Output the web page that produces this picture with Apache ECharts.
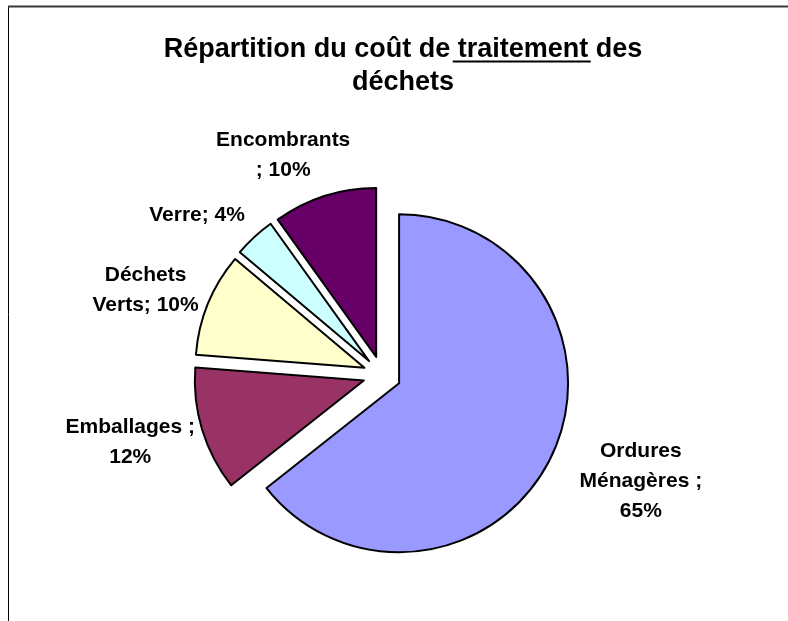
<!DOCTYPE html>
<html><head><meta charset="utf-8">
<script src="https://cdn.jsdelivr.net/npm/echarts@6/dist/echarts.min.js"></script>
<style>html,body{margin:0;padding:0;background:#fff}#c{width:788px;height:621px}</style>
</head><body><div id="c"></div>
<script>
// ---- data ----
const categories = ['Ordures Ménagères', 'Emballages', 'Déchets Verts', 'Verre', 'Encombrants'];
const shares = [65, 12, 10, 4, 10];
const labelTemplates = ['Ordures\nMénagères ;\n{p}%', 'Emballages ;\n{p}%', 'Déchets\nVerts; {p}%', 'Verre; {p}%', 'Encombrants\n; {p}%'];
const titleLine1 = ['Répartition du coût de ', 'traitement ', 'des'];
const titleLine2 = 'déchets';

// ---- styles ----
const colors = ['#9999FF', '#993366', '#FFFFCC', '#CCFFFF', '#660066'];
const labelLineLen = [56, 44, 36, 30, 43];
const labelLineLen2 = [-27, -40, -29, -16, -44];
const FONT = "'Liberation Sans', Arial, sans-serif";
const titleSize = 27;

const chart = echarts.init(document.getElementById('c'), null, { renderer: 'canvas' });

// underline position for "traitement"
const cv = document.createElement('canvas').getContext('2d');
cv.font = 'bold ' + titleSize + 'px ' + FONT;
const full = titleLine1.join('');
const fullW = cv.measureText(full).width;
const preW = cv.measureText(titleLine1[0]).width;
const wordW = cv.measureText(titleLine1[1]).width;
const titleCx = 398;
const ulX1 = titleCx - fullW / 2 + preW;
const ulX2 = ulX1 + wordW;

const data = categories.map((n, i) => ({
  name: n,
  value: shares[i],
  selected: true,
  itemStyle: { color: colors[i] },
  labelLine: { show: false, length: labelLineLen[i], length2: labelLineLen2[i] }
}));

chart.setOption({
  animation: false,
  backgroundColor: '#fff',
  title: {
    text: full + '\n' + titleLine2,
    left: titleCx,
    textAlign: 'center',
    top: 28,
    textStyle: { fontFamily: FONT, fontWeight: 'bold', fontSize: titleSize, lineHeight: 33, color: '#000' }
  },
  graphic: [
    { type: 'line', shape: { x1: 8.5, y1: 7, x2: 8.5, y2: 640 }, style: { stroke: '#000', lineWidth: 1 } },
    { type: 'line', shape: { x1: 8, y1: 6.5, x2: 800, y2: 6.5 }, style: { stroke: '#3a3a3a', lineWidth: 2 } },
    { type: 'line', shape: { x1: ulX1, y1: 61.5, x2: ulX2, y2: 61.5 }, style: { stroke: '#000', lineWidth: 2 } }
  ],
  series: [{
    type: 'pie',
    center: [382, 375],
    radius: 169,
    startAngle: 90,
    clockwise: true,
    selectedMode: 'multiple',
    selectedOffset: 19,
    avoidLabelOverlap: false,
    emphasis: { disabled: true },
    itemStyle: { borderColor: '#000', borderWidth: 2 },
    label: {
      show: true,
      position: 'outside',
      distanceToLabelLine: 5,
      formatter: p => labelTemplates[p.dataIndex].split('\n').map(s => '{c|' + s.replace('{p}', p.value) + '}').join('\n'),
      rich: { c: { fontFamily: FONT, fontWeight: 'bold', fontSize: 21, lineHeight: 30, color: '#000', align: 'center' } }
    },
    labelLine: { show: false },
    data: data
  }]
});
</script>
</body></html>
